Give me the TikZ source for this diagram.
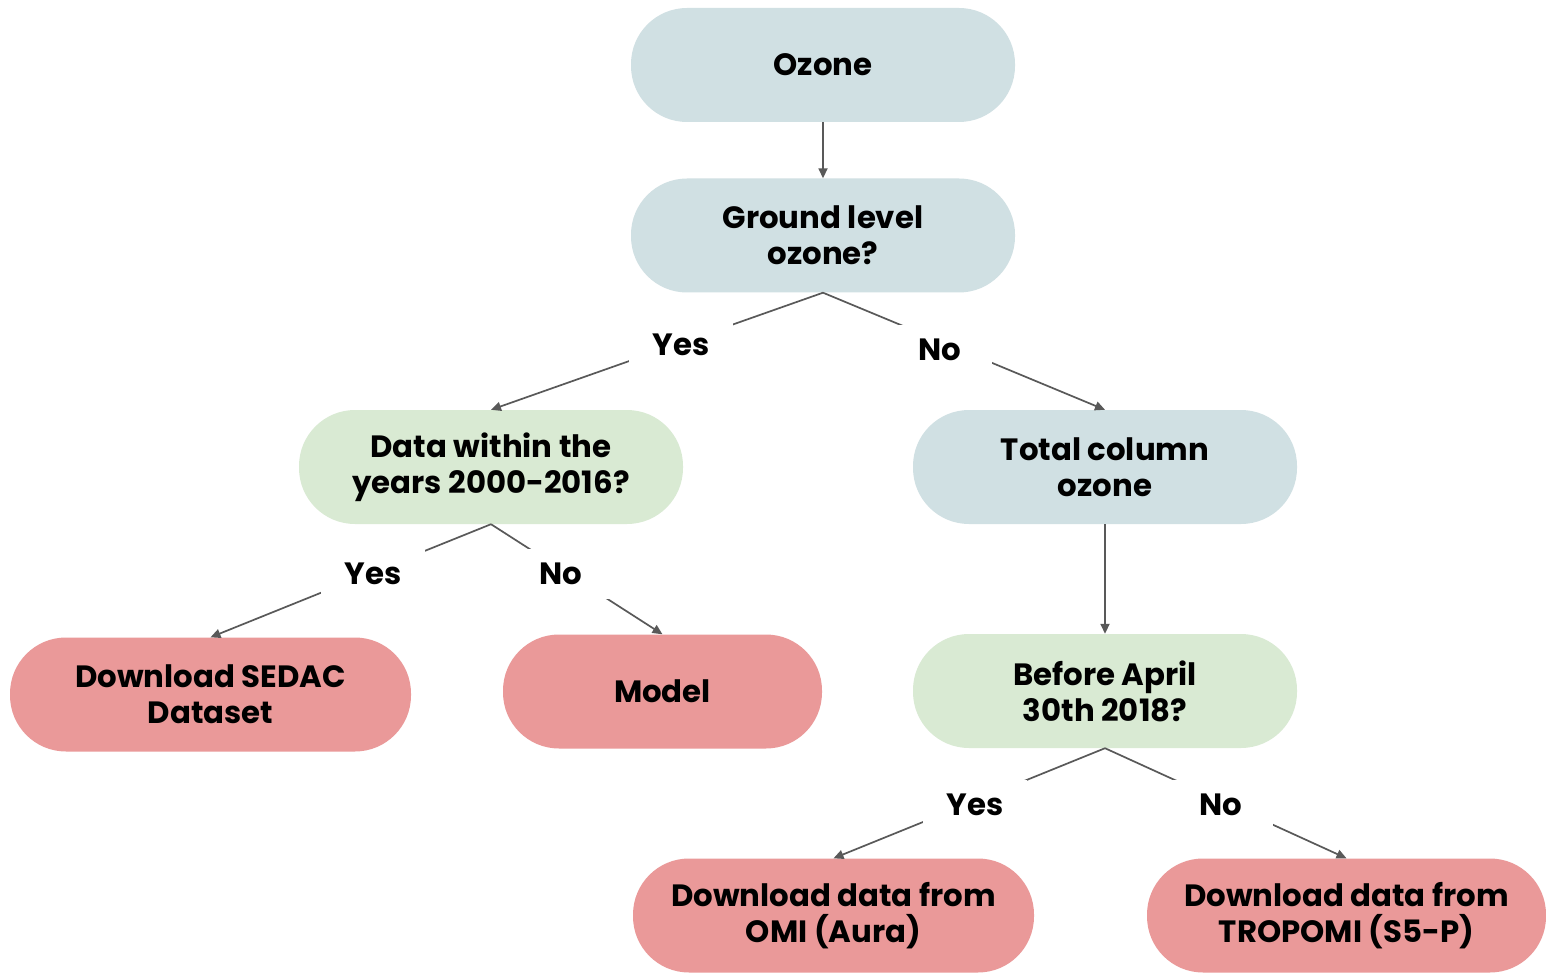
\documentclass[tikz,border=0pt]{standalone}
\usepackage{fontspec}
\setmainfont{Poppins}
\usetikzlibrary{arrows.meta}
\definecolor{pillblue}{HTML}{D0E0E3}
\definecolor{pillgreen}{HTML}{D9EAD3}
\definecolor{pillred}{HTML}{EA9999}
\definecolor{linegray}{HTML}{595959}
\begin{document}
\begin{tikzpicture}[x=1pt,y=-1pt,
  pill/.style={rectangle, rounded corners=56pt, minimum height=114pt,
    align=center, inner sep=0pt, draw=none,
    font=\bfseries\fontsize{30.8}{36}\selectfont},
  bluepill/.style={pill, fill=pillblue},
  greenpill/.style={pill, fill=pillgreen},
  redpill/.style={pill, fill=pillred},
  conn/.style={draw=linegray, line width=1.7pt,
    -{Triangle[length=10pt,width=9pt]}},
  answer/.style={fill=white, inner sep=0pt, minimum width=104pt,
    minimum height=50pt, font=\bfseries\fontsize{30.8}{36}\selectfont}]
\fill[white] (0,0) rectangle (1546,973);
\useasboundingbox (0,0) rectangle (1546,973);

% decision pills
\node[bluepill, minimum width=384pt] (oz) at (823,65) {Ozone};
\node[bluepill, minimum width=384pt] (gl) at (823,235.5) {Ground level\\ozone?};
\node[greenpill, minimum width=384pt] (dw) at (491,467) {Data within the\\years 2000-2016?};
\node[bluepill, minimum width=384pt] (tc) at (1105,467) {Total column\\ozone};
\node[greenpill, minimum width=384pt] (ba) at (1105,691) {Before April\\30th 2018?};

% outcome pills
\node[redpill, minimum width=401pt] (sedac) at (210.5,694.5) {Download SEDAC\\Dataset};
\node[redpill, minimum width=319pt] (model) at (662.5,691.5) {Model};
\node[redpill, minimum width=401pt] (omi) at (833.5,915.5) {Download data from\\OMI (Aura)};
\node[redpill, minimum width=399pt] (tropomi) at (1346.5,915.5) {Download data from\\TROPOMI (S5-P)};

% connectors
\draw[conn] (oz.south) -- (gl.north);
\draw[conn] (gl.south) -- (dw.north);
\draw[conn] (gl.south) -- (tc.north);
\draw[conn] (dw.south) -- (sedac.north);
\draw[conn] (dw.south) -- (model.north);
\draw[conn] (tc.south) -- (ba.north);
\draw[conn] (ba.south) -- (omi.north);
\draw[conn] (ba.south) -- (tropomi.north);

% branch answers, set over the connectors
\node[answer] (y1) at (681,345) {Yes};
\node[answer] (n1) at (940,350) {No};
\node[answer] (y2) at (373,574) {Yes};
\node[answer] (n2) at (561,574) {No};
\node[answer] (y3) at (975,805) {Yes};
\node[answer] (n3) at (1221,805) {No};
\end{tikzpicture}
\end{document}
